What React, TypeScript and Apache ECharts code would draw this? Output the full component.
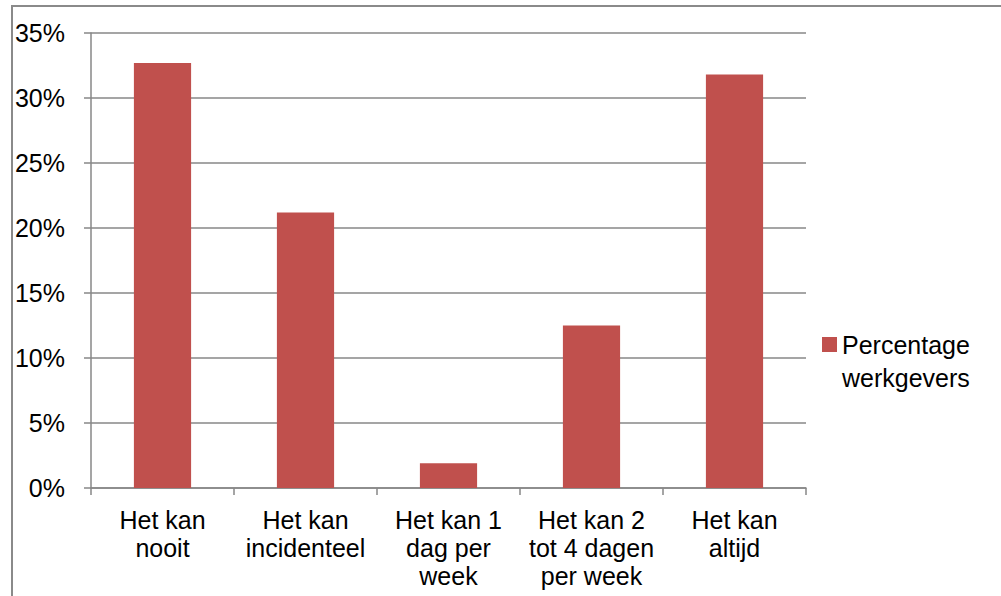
import React, { useEffect, useRef } from "react";
import * as echarts from "echarts";

const categories = [
  "Het kan\nnooit",
  "Het kan\nincidenteel",
  "Het kan 1\ndag per\nweek",
  "Het kan 2\ntot 4 dagen\nper week",
  "Het kan\naltijd",
];
const seriesName = "Percentage werkgevers";
const values = [32.7, 21.2, 1.9, 12.5, 31.8];
const yTicks = { min: 0, max: 35, interval: 5 };

const FONT = "'Liberation Sans', Arial, sans-serif";
const GRAY = "#878787";

export default function App() {
  const ref = useRef<HTMLDivElement>(null);
  useEffect(() => {
    if (!ref.current) return;
    const chart = echarts.init(ref.current, undefined, { renderer: "svg" });
    chart.setOption({
      animation: false,
      backgroundColor: "transparent",
      textStyle: { fontFamily: FONT },
      grid: { left: 91, right: 195, top: 33, bottom: 108, containLabel: false },
      legend: {
        show: true,
        left: 822,
        top: 295,
        padding: 0,
        orient: "vertical",
        itemWidth: 15,
        itemHeight: 15,
        itemGap: 10,
        icon: "rect",
        data: [seriesName],
        formatter: () => "\nPercentage\nwerkgevers",
        textStyle: {
          fontFamily: FONT,
          fontSize: 25,
          color: "#000",
          lineHeight: 33,
        },
      },
      xAxis: {
        type: "category",
        data: categories,
        axisLine: { show: true, lineStyle: { color: GRAY, width: 1.5 } },
        axisTick: { show: true, length: 7, lineStyle: { color: GRAY, width: 1.5 } },
        axisLabel: {
          interval: 0,
          margin: 18,
          fontFamily: FONT,
          fontSize: 25,
          color: "#000",
          lineHeight: 28,
        },
        splitLine: { show: false },
      },
      yAxis: {
        type: "value",
        min: yTicks.min,
        max: yTicks.max,
        interval: yTicks.interval,
        axisLine: { show: true, lineStyle: { color: GRAY, width: 1.5 } },
        axisTick: { show: true, length: 7, lineStyle: { color: GRAY, width: 1.5 } },
        axisLabel: {
          formatter: "{value}%",
          margin: 26,
          fontFamily: FONT,
          fontSize: 25,
          color: "#000",
        },
        splitLine: { show: true, lineStyle: { color: GRAY, width: 1.5 } },
      },
      series: [
        {
          name: seriesName,
          type: "bar",
          data: values,
          barCategoryGap: "60%",
          itemStyle: { color: "#C0504D" },
        },
      ],
    });
    return () => chart.dispose();
  }, []);
  return (
    <div
      style={{
        position: "fixed",
        left: 0,
        top: 0,
        width: 1001,
        height: 596,
        background: "#fff",
        overflow: "hidden",
      }}
    >
      <div
        style={{
          position: "absolute",
          left: 11,
          top: 5,
          width: 1100,
          height: 700,
          borderLeft: "2px solid #8a8a8a",
          borderTop: "2px solid #8a8a8a",
        }}
      />
      <div ref={ref} style={{ position: "absolute", left: 0, top: 0, width: 1001, height: 596 }} />
    </div>
  );
}
